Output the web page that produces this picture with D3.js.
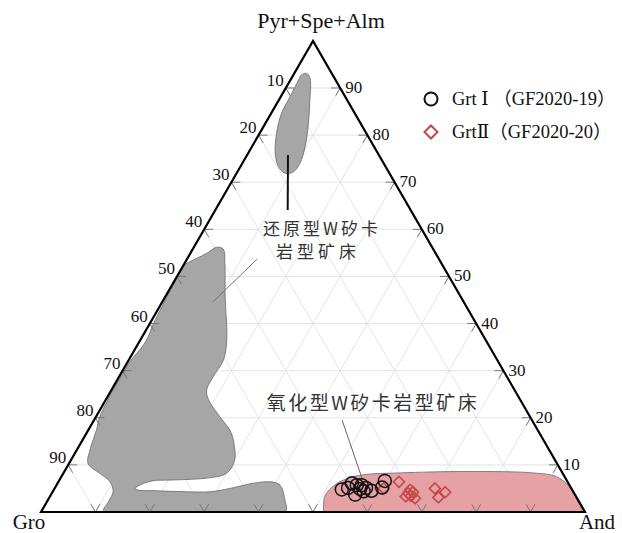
<!DOCTYPE html>
<html>
<head>
<meta charset="utf-8">
<script src="https://cdn.jsdelivr.net/npm/d3@7/dist/d3.min.js"></script>
<style>
  html, body { margin: 0; padding: 0; background: #fff; }
  svg { display: block; }
</style>
</head>
<body>
<div id="chart"></div>
<script>
// Ternary garnet end-member diagram: Gro (bottom-left), And (bottom-right), Pyr+Spe+Alm (apex).
// Every composition is given as [And %, Pyr+Spe+Alm %]; Gro is the remainder.

const gridSteps = [10, 20, 30, 40, 50, 60, 70, 80, 90];
const leftTickLabels = ["10", "20", "30", "40", "50", "60", "70", "80", "90"];   // Gro %
const rightTickLabels = ["90", "80", "70", "60", "50", "40", "30", "20", "10"];  // Pyr+Spe+Alm %
const vertexLabels = ["Gro", "And", "Pyr+Spe+Alm"];

// Grt I (GF2020-19)
const grtI = [
  [52.9, 4.8], [54.1, 6.1], [55.2, 5.7], [56.2, 4.9], [55.9, 3.7], [57.1, 4.4],
  [56.1, 5.7], [58.5, 4.5], [59.9, 6.6], [60.1, 5.2], [53.9, 5.1], [57.2, 5.1]
];
// Grt II (GF2020-20)
const grtII = [
  [60.5, 5.0], [62.6, 6.4], [65.5, 4.0], [66.3, 3.4], [65.4, 3.3], [66.3, 4.2],
  [65.5, 4.7], [67.3, 2.9], [69.9, 5.0], [72.2, 4.2], [71.5, 3.1]
];

// Reduced W skarn field, upper lobe
const reducedUpper = [
  [2.3, 93.1], [3.4, 92.1], [6.0, 86.8], [8.2, 81.8], [9.8, 77.5], [10.6, 74.0],
  [10.3, 72.2], [8.9, 71.9], [7.0, 73.3], [5.0, 76.1], [3.1, 80.4], [1.9, 84.6],
  [1.7, 88.2], [1.5, 91.7], [1.5, 92.8]
];
// Reduced W skarn field, main lobe
const reducedMain = [
  [0.3, 52.6], [0.8, 53.1], [3.0, 54.9], [4.2, 56.2], [5.6, 55.8], [7.4, 52.8],
  [11.0, 45.7], [15.9, 36.5], [17.4, 32.3], [17.3, 28.7], [17.5, 25.9], [18.9, 23.8],
  [22.8, 20.2], [26.0, 17.4], [27.7, 15.3], [30.1, 11.0], [30.0, 8.2], [26.9, 7.2],
  [20.9, 6.8], [17.1, 6.6], [15.3, 5.7], [14.8, 5.0], [15.3, 4.7], [19.0, 4.5],
  [24.6, 4.3], [28.9, 4.3], [32.2, 5.0], [36.0, 6.1], [39.2, 6.4], [41.1, 5.7],
  [43.6, 2.5], [44.9, 0.0], [11.5, 0.0], [11.3, 2.2], [11.1, 4.3], [9.5, 6.4],
  [6.7, 8.2], [3.5, 10.3], [2.4, 13.2], [1.5, 17.4], [0.7, 20.2], [0.3, 26.6],
  [0.4, 29.8], [0.4, 31.9], [1.1, 35.4], [1.1, 37.2], [0.8, 39.1], [0.4, 43.9]
];
// Oxidized W skarn field
const oxidized = [
  [52.2, 0.0], [51.2, 1.5], [50.5, 3.4], [50.8, 5.1], [52.2, 6.8], [55.3, 7.9],
  [61.8, 8.3], [74.0, 8.6], [86.3, 8.3], [91.0, 7.5], [94.4, 5.4], [97.3, 2.5],
  [99.3, 0.3], [99.0, 0.0]
];

// Leader lines from the field labels, [And, Pyr] at each end
const leaders = [
  { from: [7.5, 75.8], to: [13.3, 64.1], color: "#111", width: 2 },
  { from: [9.3, 44.6], to: [12.9, 53.7], color: "#777", width: 1 },
  { from: [45.6, 19.5], to: [55.4, 7.2], color: "#666", width: 1 }
];

const legendItems = [
  { label: "Grt Ⅰ （GF2020-19）", shape: "circle" },
  { label: "GrtⅡ（GF2020-20）", shape: "diamond" }
];

const width = 622, height = 533;
const x0 = 41, y0 = 512, side = 544;
const s = d3.scaleLinear().domain([0, 100]).range([0, side]);
const k = Math.sqrt(3) / 2;
const proj = ([a, p]) => [x0 + s(a) + s(p) / 2, y0 - s(p) * k];

const svg = d3.select("#chart").append("svg")
  .attr("width", width).attr("height", height);

const corners = [[0, 0], [100, 0], [0, 100]].map(proj);
svg.append("clipPath").attr("id", "tri")
  .append("polygon").attr("points", corners.map(c => c.join(",")).join(" "));

// grid lines: constant Pyr, constant And, constant Gro
const gridLines = [];
gridSteps.forEach(v => {
  gridLines.push([[0, v], [100 - v, v]]);
  gridLines.push([[v, 0], [v, 100 - v]]);
  gridLines.push([[100 - v, 0], [0, 100 - v]]);
});
svg.append("g").selectAll("line").data(gridLines).join("line")
  .attr("x1", d => proj(d[0])[0]).attr("y1", d => proj(d[0])[1])
  .attr("x2", d => proj(d[1])[0]).attr("y2", d => proj(d[1])[1])
  .attr("stroke", "#e4e4e4").attr("stroke-width", 1);

// fields
const area = d3.line().curve(d3.curveCatmullRomClosed.alpha(0.5));
const fields = svg.append("g").attr("clip-path", "url(#tri)");
[[reducedUpper, "#a6a6a6"], [reducedMain, "#a6a6a6"], [oxidized, "#e6a1a4"]].forEach(([pts, fill]) => {
  fields.append("path").attr("d", area(pts.map(proj)))
    .attr("fill", fill).attr("stroke", "#6a6a6a").attr("stroke-width", 0.8);
});

// tick stubs at both ends of each grid line
const tickLen = 9;
const stubs = [];
gridLines.forEach(([a, b]) => {
  const pa = proj(a), pb = proj(b);
  const dx = pb[0] - pa[0], dy = pb[1] - pa[1], L = Math.hypot(dx, dy);
  const ux = dx / L * tickLen, uy = dy / L * tickLen;
  stubs.push([pa, [pa[0] + ux, pa[1] + uy]]);
  stubs.push([pb, [pb[0] - ux, pb[1] - uy]]);
});
svg.append("g").selectAll("line").data(stubs).join("line")
  .attr("x1", d => d[0][0]).attr("y1", d => d[0][1])
  .attr("x2", d => d[1][0]).attr("y2", d => d[1][1])
  .attr("stroke", "#777").attr("stroke-width", 1);

// leader lines
svg.append("g").selectAll("line").data(leaders).join("line")
  .attr("x1", d => proj(d.from)[0]).attr("y1", d => proj(d.from)[1])
  .attr("x2", d => proj(d.to)[0]).attr("y2", d => proj(d.to)[1])
  .attr("stroke", d => d.color).attr("stroke-width", d => d.width);

// triangle frame
svg.append("polygon").attr("points", corners.map(c => c.join(",")).join(" "))
  .attr("fill", "none").attr("stroke", "#000").attr("stroke-width", 2.2)
  .attr("stroke-linejoin", "miter");

const serif = "'Liberation Serif', 'DejaVu Serif', 'Noto Sans CJK SC', serif";

// edge labels
const tickG = svg.append("g").attr("font-family", serif).attr("font-size", 17).attr("fill", "#111");
gridSteps.forEach((v, i) => {
  const pl = proj([0, 100 - v]);
  tickG.append("text").attr("x", pl[0] - 2).attr("y", pl[1] - 2)
    .attr("text-anchor", "end").text(leftTickLabels[i]);
  const pr = proj([v, 100 - v]);
  tickG.append("text").attr("x", pr[0] + 5).attr("y", pr[1] + 5)
    .attr("text-anchor", "start").text(rightTickLabels[i]);
});

// vertex labels
const vG = svg.append("g").attr("font-family", serif).attr("font-size", 21).attr("fill", "#111");
vG.append("text").attr("x", corners[0][0] - 12).attr("y", 529).attr("text-anchor", "middle").text(vertexLabels[0]);
vG.append("text").attr("x", corners[1][0] + 12).attr("y", 529).attr("text-anchor", "middle").text(vertexLabels[1]);
vG.append("text").attr("x", corners[2][0] + 8).attr("y", 28).attr("text-anchor", "middle")
  .attr("font-size", 22).text(vertexLabels[2]);

// field labels
const cjk = "'Noto Sans CJK SC', sans-serif";
const fl = svg.append("g").attr("font-family", cjk).attr("fill", "#333").attr("text-anchor", "middle");
fl.append("text").attr("x", 322).attr("y", 235).attr("font-size", 17).attr("letter-spacing", 3).text("还原型W矽卡");
fl.append("text").attr("x", 318).attr("y", 258).attr("font-size", 17).attr("letter-spacing", 4).text("岩型矿床");
fl.append("text").attr("x", 373).attr("y", 410).attr("font-size", 19).attr("letter-spacing", 2.5).text("氧化型W矽卡岩型矿床");

// samples
const diamond = d3.symbol().type(d3.symbolSquare).size(60);
svg.append("g").selectAll("path").data(grtII).join("path")
  .attr("d", diamond)
  .attr("transform", d => `translate(${proj(d)}) rotate(45)`)
  .attr("fill", "none").attr("stroke", "#c4484c").attr("stroke-width", 1.6);
svg.append("g").selectAll("circle").data(grtI).join("circle")
  .attr("cx", d => proj(d)[0]).attr("cy", d => proj(d)[1]).attr("r", 6.5)
  .attr("fill", "none").attr("stroke", "#111").attr("stroke-width", 1.5);

// legend
const lg = svg.append("g").attr("font-family", serif).attr("font-size", 18.5).attr("fill", "#111");
legendItems.forEach((it, i) => {
  const cy = 99 + i * 33;
  if (it.shape === "circle") {
    lg.append("circle").attr("cx", 431).attr("cy", cy).attr("r", 6.5)
      .attr("fill", "none").attr("stroke", "#111").attr("stroke-width", 2);
  } else {
    lg.append("path").attr("d", d3.symbol().type(d3.symbolSquare).size(85))
      .attr("transform", `translate(431,${cy}) rotate(45)`)
      .attr("fill", "none").attr("stroke", "#c4484c").attr("stroke-width", 2);
  }
  lg.append("text").attr("x", 452).attr("y", cy + 6).text(it.label);
});
</script>
</body>
</html>
